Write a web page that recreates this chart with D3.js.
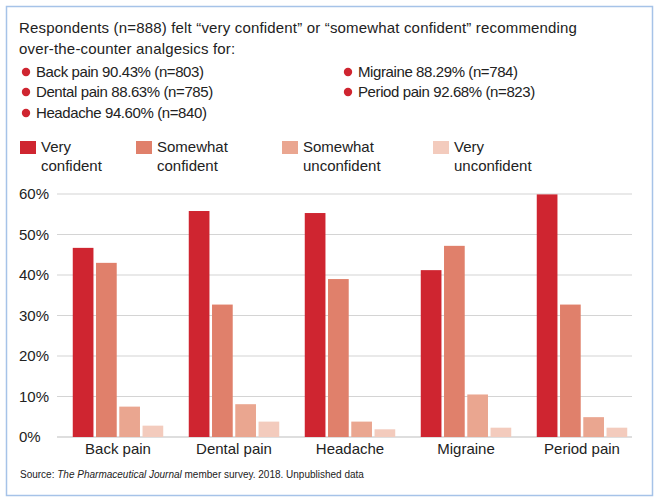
<!DOCTYPE html>
<html>
<head>
<meta charset="utf-8">
<script src="https://cdn.jsdelivr.net/npm/d3@7"></script>
<style>
  body { margin: 0; background: #fff; }
  svg { display: block; font-family: "Liberation Sans", Arial, sans-serif; }
</style>
</head>
<body>
<svg width="660" height="504"></svg>
<script>
var categories = ["Back pain", "Dental pain", "Headache", "Migraine", "Period pain"];
var seriesNames = ["Very confident", "Somewhat confident", "Somewhat unconfident", "Very unconfident"];
var veryConfident = [46.7, 55.8, 55.3, 41.2, 59.9];
var somewhatConfident = [43.0, 32.7, 39.0, 47.2, 32.7];
var somewhatUnconfident = [7.5, 8.1, 3.8, 10.5, 4.9];
var veryUnconfident = [2.8, 3.8, 1.9, 2.3, 2.3];
var yTicks = [0, 10, 20, 30, 40, 50, 60];
var summaryLeft = ["Back pain 90.43% (n=803)", "Dental pain 88.63% (n=785)", "Headache 94.60% (n=840)"];
var summaryRight = ["Migraine 88.29% (n=784)", "Period pain 92.68% (n=823)"];
var colors = ["#cf2530", "#e0806b", "#eaa690", "#f3cbbd"];

var svg = d3.select("svg"),
    width = +svg.attr("width"),
    height = +svg.attr("height");

var textColor = "#222";

// frame
svg.append("rect")
    .attr("x", 6.5).attr("y", 6.5)
    .attr("width", 646).attr("height", 489)
    .attr("fill", "none")
    .attr("stroke", "#a6c3e8")
    .attr("stroke-width", 1.5);

// heading
var head = svg.append("g")
    .attr("fill", textColor)
    .attr("font-size", 15);
head.append("text").attr("x", 19).attr("y", 33)
    .attr("letter-spacing", 0.17)
    .text("Respondents (n=888) felt \u201cvery confident\u201d or \u201csomewhat confident\u201d recommending");
head.append("text").attr("x", 19).attr("y", 54)
    .attr("letter-spacing", 0.17)
    .text("over-the-counter analgesics for:");

var rowY = [77, 97, 118];
function bullets(list, x) {
    var g = head.append("g");
    g.selectAll("circle").data(list).enter().append("circle")
        .attr("cx", x).attr("cy", function(d, i) { return rowY[i] - 5; })
        .attr("r", 4.2).attr("fill", colors[0]);
    g.selectAll("text").data(list).enter().append("text")
        .attr("x", x + 10).attr("y", function(d, i) { return rowY[i]; })
        .attr("letter-spacing", -0.4)
        .text(function(d) { return d; });
}
bullets(summaryLeft, 26);
bullets(summaryRight, 348);

// legend
var legendX = [20, 136, 282, 433];
var legend = svg.append("g").attr("font-size", 15).attr("fill", textColor)
    .selectAll("g").data(seriesNames).enter().append("g")
    .attr("transform", function(d, i) { return "translate(" + legendX[i] + ",0)"; });
legend.append("rect")
    .attr("x", 0).attr("y", 141).attr("width", 16).attr("height", 13)
    .attr("fill", function(d, i) { return colors[i]; });
legend.append("text").attr("x", 21).attr("y", 152)
    .text(function(d) { return d.split(" ")[0]; });
legend.append("text").attr("x", 21).attr("y", 171)
    .text(function(d) { return d.split(" ")[1]; });

// chart
var series = [veryConfident, somewhatConfident, somewhatUnconfident, veryUnconfident];
var data = categories.map(function(c, i) {
    return { category: c, values: series.map(function(s, j) { return { key: j, value: s[i] }; }) };
});

var x0 = d3.scaleBand().domain(categories).range([60, 640])
    .paddingInner(0.22).paddingOuter(0.11);
var x1 = d3.scaleBand().domain(d3.range(series.length)).range([0, x0.bandwidth()])
    .paddingInner(0.11);
var y = d3.scaleLinear().domain([0, 60]).range([437, 194]);

var grid = svg.append("g");
grid.selectAll("line").data(yTicks).enter().append("line")
    .attr("x1", 57).attr("x2", 632)
    .attr("y1", function(d) { return y(d); })
    .attr("y2", function(d) { return y(d); })
    .attr("stroke", function(d) { return d === 0 ? "#bdbdbd" : "#d4d4d4"; })
    .attr("stroke-width", 1.2);
grid.selectAll("text").data(yTicks).enter().append("text")
    .attr("x", 19).attr("y", function(d) { return y(d) + 5; })
    .attr("font-size", 15).attr("fill", textColor)
    .text(function(d) { return d + "%"; });

var groups = svg.append("g").selectAll("g").data(data).enter().append("g")
    .attr("transform", function(d) { return "translate(" + x0(d.category) + ",0)"; });
groups.selectAll("rect").data(function(d) { return d.values; }).enter().append("rect")
    .attr("x", function(d) { return x1(d.key); })
    .attr("width", x1.bandwidth())
    .attr("y", function(d) { return y(d.value); })
    .attr("height", function(d) { return y(0) - y(d.value); })
    .attr("fill", function(d) { return colors[d.key]; });

svg.append("g").selectAll("text").data(categories).enter().append("text")
    .attr("x", function(d) { return x0(d) + x0.bandwidth() / 2; })
    .attr("y", 454)
    .attr("text-anchor", "middle")
    .attr("font-size", 15).attr("fill", textColor)
    .text(function(d) { return d; });

// source
var src = svg.append("text").attr("x", 20).attr("y", 478)
    .attr("font-size", 10).attr("fill", textColor);
src.append("tspan").text("Source: ");
src.append("tspan").attr("font-style", "italic").text("The Pharmaceutical Journal");
src.append("tspan").text(" member survey. 2018. Unpublished data");
</script>
</body>
</html>
